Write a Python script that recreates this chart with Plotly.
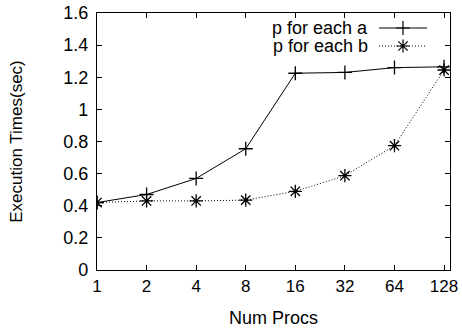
import plotly.graph_objects as go

procs = [1, 2, 4, 8, 16, 32, 64, 128]
tick_labels = ["1", "2", "4", "8", "16", "32", "64", "128"]
times_a = [0.42, 0.47, 0.57, 0.755, 1.225, 1.23, 1.26, 1.265]
times_b = [0.42, 0.43, 0.43, 0.435, 0.49, 0.587, 0.774, 1.245]
y_ticks = [0, 0.2, 0.4, 0.6, 0.8, 1.0, 1.2, 1.4, 1.6]
y_tick_labels = ["0", "0.2", "0.4", "0.6", "0.8", "1", "1.2", "1.4", "1.6"]
series_names = ["p for each a", "p for each b"]

FONT = "Liberation Sans, Arial, sans-serif"
W, H = 462, 328
L, R, T, B = 97, 450, 13, 270  # plot area pixel bounds
DOT = "1px,2px"

fig = go.Figure()
fig.add_trace(go.Scatter(
    x=procs, y=times_a, mode="lines+markers", name=series_names[0],
    line=dict(color="black", width=1),
    marker=dict(symbol="cross-thin-open", size=10, color="black", line=dict(color="black", width=1.3)),
    showlegend=False))
fig.add_trace(go.Scatter(
    x=procs, y=times_b, mode="lines+markers", name=series_names[1],
    line=dict(color="black", width=1, dash=DOT),
    marker=dict(symbol="asterisk-open", size=11, color="black", line=dict(color="black", width=1.3)),
    showlegend=False))

# legend samples on a hidden pixel-space overlay axis (y measured from top)
legend_rows = [(28, "solid", "cross-thin-open", 10), (46, DOT, "asterisk-open", 11)]
for (yy, dash, sym, sz), name in zip(legend_rows, series_names):
    fig.add_trace(go.Scatter(
        x=[379, 427], y=[yy, yy], xaxis="x2", yaxis="y2", mode="lines",
        line=dict(color="black", width=1, dash=dash), showlegend=False, hoverinfo="skip"))
    fig.add_trace(go.Scatter(
        x=[403], y=[yy], xaxis="x2", yaxis="y2", mode="markers",
        marker=dict(symbol=sym, size=sz, color="black", line=dict(color="black", width=1.2)),
        showlegend=False, hoverinfo="skip"))
    fig.add_annotation(x=370, y=yy, xref="x2", yref="y2", text=name,
                       showarrow=False, xanchor="right", yanchor="middle",
                       font=dict(family=FONT, size=18, color="black"))

axis_common = dict(showline=True, linecolor="black", linewidth=1.3, mirror="allticks",
                   ticks="inside", ticklen=5, tickcolor="black", tickwidth=1,
                   showgrid=False, zeroline=False, automargin=False)

fig.update_layout(
    width=W, height=H,
    margin=dict(l=L, r=W - R, t=T, b=H - B),
    plot_bgcolor="white", paper_bgcolor="white",
    xaxis=dict(type="log", range=[0, 2.1433], tickvals=procs, ticktext=tick_labels,
               tickfont=dict(family=FONT, size=17, color="black"),
               title=dict(text="Num Procs", font=dict(family=FONT, size=18, color="black"), standoff=16),
               **axis_common),
    yaxis=dict(range=[0, 1.6], tickvals=y_ticks, ticktext=y_tick_labels,
               tickfont=dict(family=FONT, size=18, color="black"), ticklabelstandoff=4,
               title=dict(text="Execution Times(sec)", font=dict(family=FONT, size=17, color="black"), standoff=36),
               **axis_common),
    xaxis2=dict(domain=[0, 1], range=[L, R], visible=False, overlaying="x", anchor="y2"),
    yaxis2=dict(domain=[0, 1], range=[B, T], visible=False, overlaying="y", anchor="x2"),
    font=dict(family=FONT, size=18, color="black"),
)

fig.write_html("out.html")
